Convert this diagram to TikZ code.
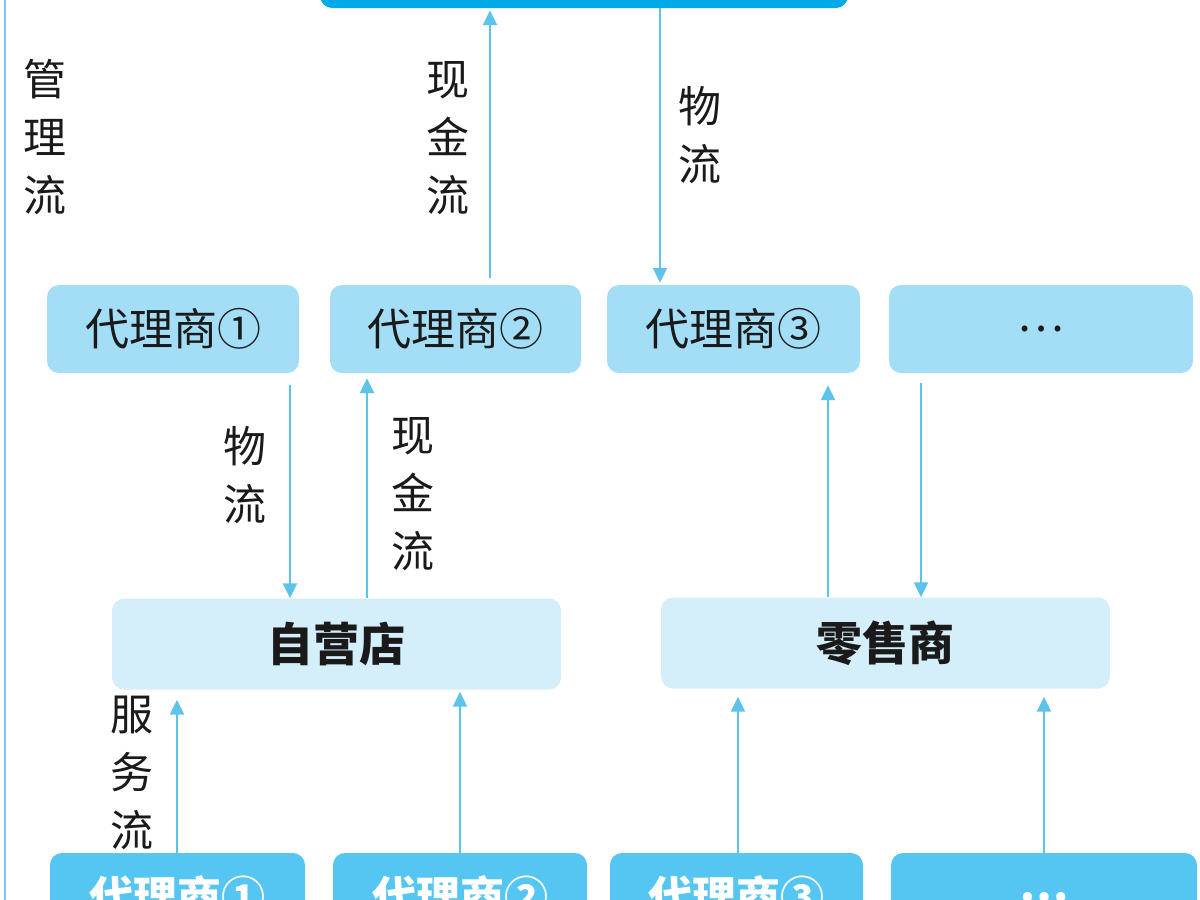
\documentclass[tikz,border=0pt]{standalone}
\usepackage{fontspec}
\newfontfamily\cjk{Noto Sans CJK SC}
\usetikzlibrary{arrows.meta}
\definecolor{topc}{HTML}{00AAE7}
\definecolor{rowc}{HTML}{A3DEF6}
\definecolor{midc}{HTML}{D4EEFA}
\definecolor{botc}{HTML}{55C6F1}
\definecolor{arrc}{HTML}{5DC3EB}
\definecolor{txtc}{HTML}{1A1A1A}
\tikzset{
  box/.style={rectangle, rounded corners=12pt, inner sep=0pt, draw=none},
  rowbox/.style={box, fill=rowc, minimum height=88pt, font=\cjk\fontsize{44}{50}\selectfont, text=txtc},
  midbox/.style={box, fill=midc, minimum height=91pt, font=\cjk\bfseries\fontsize{46}{52}\selectfont, text=txtc},
  botbox/.style={box, fill=botc, minimum height=88pt, font=\cjk\bfseries\fontsize{44}{50}\selectfont, text=white},
  flowlbl/.style={align=center, inner sep=0pt, font=\cjk\fontsize{43}{58}\selectfont, text=txtc},
  arr/.style={draw=arrc, line width=2.2pt, -{Triangle[length=15pt,width=14pt]}},
  plainline/.style={draw=arrc!85, line width=2.4pt}
}
\begin{document}
\begin{tikzpicture}[x=1pt,y=-1pt]
\useasboundingbox (0,0) rectangle (1200,900);
\clip (0,0) rectangle (1200,900);
% top box
\node[box, fill=topc, minimum width=528pt, minimum height=68pt] (top) at (584,-26) {};
% row 2
\node[rowbox, minimum width=252pt] (a1) at (173,329) {代理商①};
\node[rowbox, minimum width=251pt] (a2) at (455.5,329) {代理商②};
\node[rowbox, minimum width=253pt] (a3) at (733.5,329) {代理商③};
\node[rowbox, minimum width=304pt] (a4) at (1041,329) {…};
% middle
\node[midbox, minimum width=449pt] (zy) at (336.5,644) {自营店};
\node[midbox, minimum width=449pt] (ls) at (885.5,643) {零售商};
% bottom
\node[botbox, minimum width=255pt] (b1) at (177.5,897) {代理商①};
\node[botbox, minimum width=254pt] (b2) at (460,897) {代理商②};
\node[botbox, minimum width=253pt] (b3) at (736.5,897) {代理商③};
\node[botbox, minimum width=306pt] (b4) at (1044,897) {…};
% left management line
\coordinate (lt) at (5,-20);
\coordinate (lb) at (5,920);
\draw[plainline] (lt) -- (lb);
% labels
\node[flowlbl] (l1) at (45,137) {管\\理\\流};
\node[flowlbl] (l2) at (448,138) {现\\金\\流};
\node[flowlbl] (l3) at (700,135) {物\\流};
\node[flowlbl] (l4) at (245,475) {物\\流};
\node[flowlbl] (l5) at (413,494) {现\\金\\流};
\node[flowlbl] (l6) at (132,773) {服\\务\\流};
% arrows
\draw[arr, shorten <=7pt, shorten >=2pt] (a2.north -| 490,0) -- (top.south -| 490,0);
\draw[arr, shorten >=2pt] (top.south -| 660,0) -- (a3.north -| 660,0);
\draw[arr, shorten <=12pt] (a1.south -| 290,0) -- (zy.north -| 290,0);
\draw[arr, shorten >=5pt] (zy.north -| 367,0) -- (a2.south -| 367,0);
\draw[arr, shorten >=12pt] (ls.north -| 828,0) -- (a3.south -| 828,0);
\draw[arr, shorten <=10pt] (a4.south -| 921,0) -- (ls.north -| 921,0);
\draw[arr, shorten >=10pt] (b1.north -| 177,0) -- (zy.south -| 177,0);
\draw[arr, shorten >=2pt] (b2.north -| 460,0) -- (zy.south -| 460,0);
\draw[arr, shorten >=8pt] (b3.north -| 738,0) -- (ls.south -| 738,0);
\draw[arr, shorten >=8pt] (b4.north -| 1044,0) -- (ls.south -| 1044,0);
\end{tikzpicture}
\end{document}
